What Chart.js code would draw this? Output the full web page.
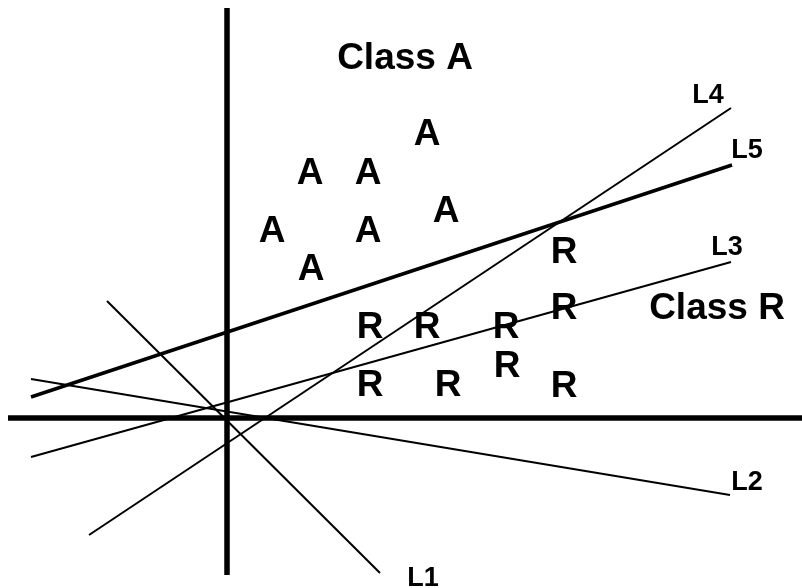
<!DOCTYPE html>
<html>
<head>
<meta charset="utf-8">
<script src="https://cdn.jsdelivr.net/npm/chart.js@4.4.1/dist/chart.umd.min.js"></script>
<style>
  html, body { margin: 0; padding: 0; background: #fff; }
  canvas { display: block; }
</style>
</head>
<body>
<canvas id="chart" width="802" height="588"></canvas>
<script>
// ---------- data (origin = where the two thick axes cross) ----------
const lineNames  = ['L1', 'L2', 'L3', 'L4', 'L5'];
const lineStartX = [-120, -196, -196, -138, -196];
const lineStartY = [117, 39, -39, -117, 21];
const lineEndX   = [153, 503, 504, 504, 505];
const lineEndY   = [-155, -77, 156, 310, 253];
const lineLabelX = [196, 520, 500, 481, 520];
const lineLabelY = [-158, -62, 173, 325, 270];

const axisHX = [-219, 575];   // horizontal axis, y = 0
const axisVY = [410, -157];   // vertical axis, x = 0

const classAX = [200, 83, 141, 219, 45, 141, 84];
const classAY = [286, 247, 247, 209, 189, 189, 151];
const classRX = [337, 337, 143, 200, 279, 143, 221, 280, 337];
const classRY = [168, 112, 93, 93, 93, 35, 35, 54, 34];

const classNames  = ['Class A', 'Class R'];
const classLabelX = [178, 490];
const classLabelY = [362, 112];

// ---------- helpers ----------
const FONT = '"Liberation Sans", Arial, sans-serif';
const pts = (xs, ys) => xs.map((x, i) => ({ x, y: ys[i] }));

function segment(label, data, width) {
  return {
    label,
    data,
    showLine: true,
    borderColor: '#000',
    borderWidth: width,
    pointRadius: 0,
    pointHoverRadius: 0,
    borderCapStyle: 'butt'
  };
}

const datasets = [
  segment('x-axis', [{ x: axisHX[0], y: 0 }, { x: axisHX[1], y: 0 }], 5.5),
  segment('y-axis', [{ x: 0, y: axisVY[0] }, { x: 0, y: axisVY[1] }], 5.5),
  ...lineNames.map((name, i) => segment(name, [
    { x: lineStartX[i], y: lineStartY[i] },
    { x: lineEndX[i], y: lineEndY[i] }
  ], name === 'L5' ? 3.5 : 2)),
  { label: 'A', letter: 'A', data: pts(classAX, classAY), pointRadius: 0, showLine: false },
  { label: 'R', letter: 'R', data: pts(classRX, classRY), pointRadius: 0, showLine: false }
];

// ----------- draw letters + text labels -----------
function drawText(ctx, text, x, y, size) {
  ctx.font = 'bold ' + size + 'px ' + FONT;
  ctx.fillText(text, x, y + size * 0.36);
}

const letterPlugin = {
  id: 'letters',
  afterDatasetsDraw(chart) {
    const { ctx, scales } = chart;
    ctx.save();
    ctx.fillStyle = '#000';
    ctx.textAlign = 'center';
    ctx.textBaseline = 'alphabetic';

    chart.data.datasets.forEach((ds, di) => {
      if (!ds.letter) return;
      chart.getDatasetMeta(di).data.forEach(el => drawText(ctx, ds.letter, el.x, el.y, 37));
    });

    lineNames.forEach((name, i) => {
      drawText(ctx, name, scales.x.getPixelForValue(lineLabelX[i]),
        scales.y.getPixelForValue(lineLabelY[i]), 27);
    });

    classNames.forEach((name, i) => {
      drawText(ctx, name, scales.x.getPixelForValue(classLabelX[i]),
        scales.y.getPixelForValue(classLabelY[i]), 37);
    });
    ctx.restore();
  }
};

new Chart(document.getElementById('chart'), {
  type: 'scatter',
  data: { datasets },
  options: {
    responsive: false,
    animation: false,
    layout: { padding: 0 },
    scales: {
      x: { type: 'linear', min: -227, max: 575, display: false },
      y: { type: 'linear', min: -170, max: 418, display: false }
    },
    plugins: {
      legend: { display: false },
      tooltip: { enabled: false }
    }
  },
  plugins: [letterPlugin]
});
</script>
</body>
</html>
